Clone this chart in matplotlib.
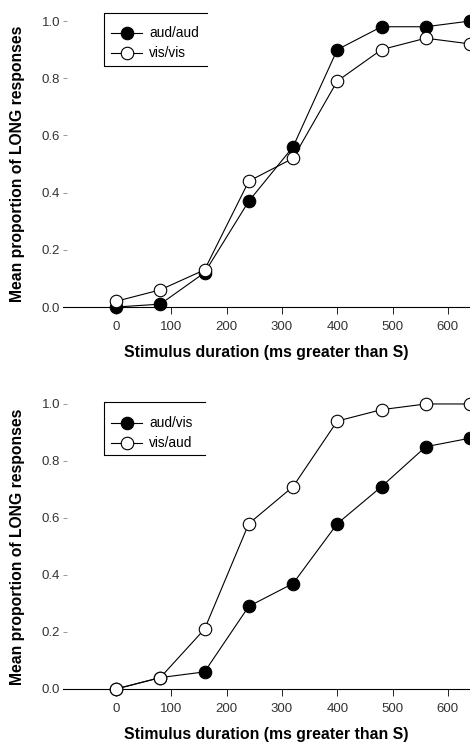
import matplotlib
matplotlib.use('Agg')
import matplotlib.pyplot as plt
from matplotlib.lines import Line2D

plt.rcParams['font.family'] = ['Liberation Sans', 'DejaVu Sans']

# stimulus durations (ms greater than S)
durations = [0, 80, 160, 240, 320, 400, 480, 560, 640]

# top panel
aud_aud = [0.00, 0.01, 0.12, 0.37, 0.56, 0.90, 0.98, 0.98, 1.00]
vis_vis = [0.02, 0.06, 0.13, 0.44, 0.52, 0.79, 0.90, 0.94, 0.92]

# bottom panel
aud_vis = [0.00, 0.04, 0.06, 0.29, 0.37, 0.58, 0.71, 0.85, 0.88]
vis_aud = [0.00, 0.04, 0.21, 0.58, 0.71, 0.94, 0.98, 1.00, 1.00]

xticks = [0, 100, 200, 300, 400, 500, 600]
yticks = [0.0, 0.2, 0.4, 0.6, 0.8, 1.0]

fig = plt.figure(figsize=(4.7, 7.43), dpi=100)
ax1 = fig.add_axes([0.134, 0.5868, 0.866, 0.3849])
ax2 = fig.add_axes([0.134, 0.0727, 0.866, 0.3836])


def panel(ax, filled, hollow, lab_f, lab_h, box, leg_y):
    ax.plot(durations, filled, '-o', color='black', lw=0.8, ms=9,
            mfc='black', mec='black', mew=0.8, clip_on=False, zorder=3,
            label=lab_f)
    ax.plot(durations, hollow, '-o', color='black', lw=0.8, ms=9,
            mfc='white', mec='black', mew=0.8, clip_on=False, zorder=4,
            label=lab_h)
    ax.set_xlim(-96, 640)
    ax.set_ylim(0, 1.0)
    ax.set_xticks(xticks)
    ax.set_yticks(yticks)
    ax.set_yticklabels(['%.1f' % v for v in yticks])
    for s in ['top', 'right', 'left']:
        ax.spines[s].set_visible(False)
    ax.spines['bottom'].set_linewidth(0.8)
    ax.tick_params(axis='x', direction='out', length=5, width=0.6,
                   labelsize=9.5, labelcolor='#333333', pad=5)
    ax.tick_params(axis='y', direction='in', length=3, width=0.6,
                   color='#888888', labelsize=9.5, labelcolor='#333333', pad=2)
    ax.set_xlabel('Stimulus duration (ms greater than S)', fontsize=11.4,
                  fontweight='bold', labelpad=9)
    ax.set_ylabel('Mean proportion of LONG responses', fontsize=11.3,
                  fontweight='bold', labelpad=12)
    ax.legend(loc='upper left', bbox_to_anchor=(0.095, leg_y), frameon=False,
              fontsize=9.8, handlelength=2.3, handletextpad=0.5,
              labelspacing=0.45, borderaxespad=0.3)
    # three-sided legend box (open on the right)
    x0, x1, y0, y1 = box
    ax.add_line(Line2D([x1, x0, x0, x1], [y1, y1, y0, y0], transform=ax.transAxes,
                       color='black', lw=0.8, clip_on=False))


panel(ax1, aud_aud, vis_vis, 'aud/aud', 'vis/vis',
      (0.1, 0.355, 0.843, 1.028), 1.015)
panel(ax2, aud_vis, vis_aud, 'aud/vis', 'vis/aud',
      (0.1, 0.348, 0.821, 1.007), 0.99)

fig.savefig('out.png', dpi=100)
